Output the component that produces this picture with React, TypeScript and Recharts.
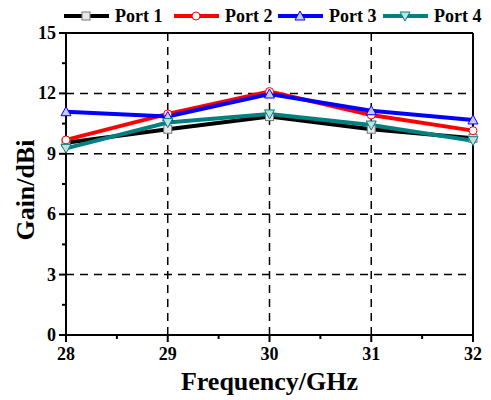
import React from 'react';
import { LineChart, Line, XAxis, YAxis, CartesianGrid, ReferenceLine } from 'recharts';

const frequencies = [28, 29, 30, 31, 32];
const port1 = [9.55, 10.22, 10.85, 10.22, 9.77];
const port2 = [9.69, 10.98, 12.09, 10.93, 10.15];
const port3 = [11.09, 10.85, 11.97, 11.14, 10.68];
const port4 = [9.27, 10.55, 10.98, 10.43, 9.65];
const xTicks = [28, 28.5, 29, 29.5, 30, 30.5, 31, 31.5, 32];
const yTicks = [0, 1.5, 3, 4.5, 6, 7.5, 9, 10.5, 12, 13.5, 15];

const data = frequencies.map((f, i) => ({ f, p1: port1[i], p2: port2[i], p3: port3[i], p4: port4[i] }));

const FONT = '"Liberation Serif", "Times New Roman", serif';
const textStyle = { fontFamily: FONT, fontWeight: 700 } as React.CSSProperties;

const series = [
  { key: 'p1', name: 'Port 1', color: '#000000', shape: 'square' },
  { key: 'p2', name: 'Port 2', color: '#ff0000', shape: 'circle' },
  { key: 'p3', name: 'Port 3', color: '#0000ff', shape: 'up' },
  { key: 'p4', name: 'Port 4', color: '#008080', shape: 'down' },
];

const Marker = ({ cx, cy, shape, color }: any) => {
  const s = 4;
  if (cx == null || cy == null) return null;
  if (shape === 'square') return <rect x={cx - s} y={cy - s} width={2 * s} height={2 * s} fill="#e8e8e8" stroke="#777" strokeWidth={1} />;
  if (shape === 'circle') return <circle cx={cx} cy={cy} r={s} fill="#fff" stroke={color} strokeWidth={1} />;
  if (shape === 'up') return <polygon points={`${cx},${cy - s - 1} ${cx - s - 1},${cy + s} ${cx + s + 1},${cy + s}`} fill="#c8c8ff" stroke={color} strokeWidth={1} />;
  return <polygon points={`${cx},${cy + s + 1} ${cx - s - 1},${cy - s} ${cx + s + 1},${cy - s}`} fill="#c0e0e0" stroke={color} strokeWidth={1} />;
};

const XTick = ({ x, y, payload }: any) => {
  const v = payload.value;
  const major = Number.isInteger(v);
  return (
    <g>
      <line x1={x} x2={x} y1={y - 8} y2={y - 8 + (major ? 7 : 4)} stroke="#000" strokeWidth={2} />
      {major && (
        <text x={x} y={y + 17} textAnchor="middle" style={{ ...textStyle, fontSize: 18 }} fill="#000">{v}</text>
      )}
    </g>
  );
};

const YTick = ({ x, y, payload }: any) => {
  const v = payload.value;
  const major = Number.isInteger(v);
  return (
    <g>
      <line x1={x + 8} x2={x + 8 - (major ? 7 : 4)} y1={y} y2={y} stroke="#000" strokeWidth={2} />
      {major && (
        <text x={x - 2} y={y + 6} textAnchor="end" style={{ ...textStyle, fontSize: 18 }} fill="#000">{v}</text>
      )}
    </g>
  );
};

const LegendOverlay = () => {
  const starts = [64, 174, 278, 383];
  return (
    <svg width={491} height={30} style={{ position: 'absolute', left: 0, top: 0 }}>
      {series.map((s, i) => {
        const x0 = starts[i];
        return (
          <g key={s.key}>
            <line x1={x0} x2={x0 + 45} y1={16} y2={16} stroke={s.color} strokeWidth={4} />
            <Marker cx={x0 + 22} cy={16} shape={s.shape} color={s.color} />
            <text x={x0 + 51} y={22} style={{ ...textStyle, fontSize: 18 }} fill="#000">{s.name}</text>
          </g>
        );
      })}
    </svg>
  );
};

export default function App() {
  return (
    <div style={{ position: 'absolute', left: 0, top: 0, width: 491, height: 400, background: '#fff' }}>
      <LineChart width={491} height={400} data={data} margin={{ top: 33, right: 18, bottom: 35, left: 0 }}>
        <CartesianGrid stroke="#000" strokeWidth={1.5} strokeDasharray="8 6" horizontalValues={[3, 6, 9, 12]} verticalValues={[29, 30, 31]} />
        <XAxis
          dataKey="f"
          type="number"
          domain={[28, 32]}
          ticks={xTicks}
          interval={0}
          height={30}
          tick={<XTick />}
          tickLine={false}
          axisLine={{ stroke: '#000', strokeWidth: 2 }}
          label={{ value: 'Frequency/GHz', position: 'bottom', offset: 7, style: { ...textStyle, fontSize: 26, fill: '#000' } }}
        />
        <YAxis
          type="number"
          domain={[0, 15]}
          ticks={yTicks}
          interval={0}
          width={66}
          tick={<YTick />}
          tickLine={false}
          axisLine={{ stroke: '#000', strokeWidth: 2 }}
          label={{ value: 'Gain/dBi', angle: -90, position: 'insideLeft', dx: 20, dy: 6, style: { ...textStyle, fontSize: 26, fill: '#000', textAnchor: 'middle' } }}
        />
        <ReferenceLine y={15} stroke="#000" strokeWidth={2} />
        <ReferenceLine x={32} stroke="#000" strokeWidth={2} />
        {series.map((s) => (
          <Line
            key={s.key}
            dataKey={s.key}
            name={s.name}
            stroke={s.color}
            strokeWidth={4}
            isAnimationActive={false}
            dot={(p: any) => <Marker key={`${s.key}-${p.index}`} cx={p.cx} cy={p.cy} shape={s.shape} color={s.color} />}
          />
        ))}
      </LineChart>
      <LegendOverlay />
    </div>
  );
}
